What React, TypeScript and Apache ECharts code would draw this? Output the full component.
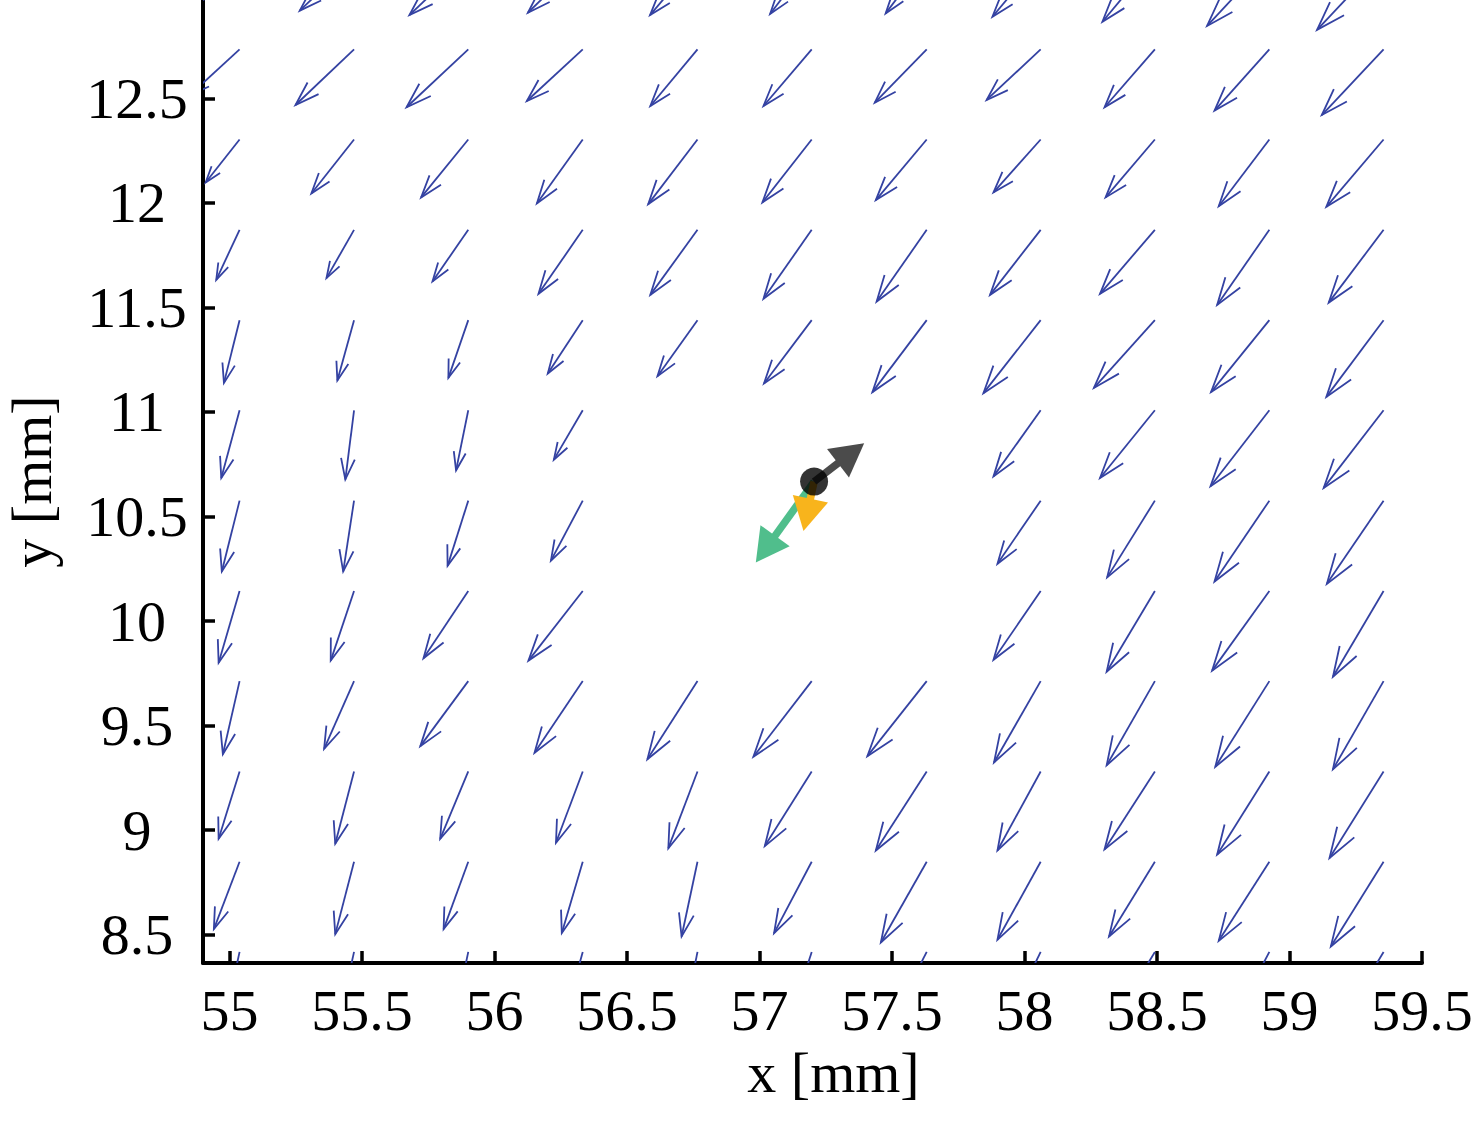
import React, { useEffect, useRef } from "react";
import * as echarts from "echarts";

// grid of the quiver (mm)
const gridX = [55.038, 55.47, 55.901, 56.333, 56.766, 57.197, 57.631, 58.061, 58.492, 58.924, 59.355];
const gridY = [8.418, 8.849, 9.281, 9.713, 10.144, 10.576, 11.008, 11.439, 11.871, 12.303, 12.734, 13.166];

// x-components of the field vectors (mm), one row per gridY (bottom to top); null = no vector
const uRows: (number | null)[][] = [
  [-0.057, -0.060, -0.057, -0.075, -0.057, -0.087, -0.151, -0.143, -0.170, -0.158, -0.189],
  [-0.097, -0.071, -0.093, -0.079, -0.060, -0.142, -0.173, -0.163, -0.173, -0.191, -0.199],
  [-0.079, -0.071, -0.106, -0.101, -0.110, -0.177, -0.192, -0.163, -0.190, -0.197, -0.204],
  [-0.063, -0.113, -0.181, -0.182, -0.189, -0.220, -0.224, -0.176, -0.182, -0.204, -0.191],
  [-0.079, -0.088, -0.169, -0.205, null, null, null, -0.178, -0.182, -0.216, -0.191],
  [-0.067, -0.041, -0.078, -0.120, null, null, null, -0.163, -0.180, -0.207, -0.214],
  [-0.069, -0.033, -0.046, -0.109, null, null, null, -0.178, -0.207, -0.222, -0.226],
  [-0.059, -0.063, -0.075, -0.132, -0.151, -0.180, -0.205, -0.216, -0.230, -0.220, -0.216],
  [-0.088, -0.104, -0.135, -0.167, -0.178, -0.182, -0.189, -0.191, -0.207, -0.197, -0.207],
  [-0.128, -0.161, -0.178, -0.173, -0.186, -0.186, -0.192, -0.178, -0.186, -0.191, -0.216],
  [-0.189, -0.221, -0.233, -0.211, -0.178, -0.182, -0.196, -0.204, -0.190, -0.207, -0.233],
  [-0.196, -0.205, -0.222, -0.207, -0.179, -0.157, -0.155, -0.182, -0.198, -0.235, -0.251],
];

// y-components of the field vectors (mm)
const vRows: (number | null)[][] = [
  [-0.335, -0.344, -0.344, -0.344, -0.359, -0.344, -0.373, -0.373, -0.359, -0.382, -0.402],
  [-0.322, -0.346, -0.322, -0.341, -0.357, -0.341, -0.386, -0.373, -0.357, -0.378, -0.405],
  [-0.322, -0.346, -0.322, -0.341, -0.367, -0.357, -0.378, -0.378, -0.373, -0.398, -0.414],
  [-0.350, -0.324, -0.311, -0.343, -0.374, -0.362, -0.359, -0.389, -0.403, -0.410, -0.422],
  [-0.343, -0.333, -0.322, -0.333, null, null, null, -0.329, -0.386, -0.381, -0.410],
  [-0.339, -0.339, -0.312, -0.287, null, null, null, -0.302, -0.367, -0.387, -0.398],
  [-0.324, -0.331, -0.287, -0.236, null, null, null, -0.316, -0.324, -0.363, -0.371],
  [-0.300, -0.288, -0.276, -0.255, -0.268, -0.303, -0.344, -0.349, -0.324, -0.344, -0.367],
  [-0.239, -0.231, -0.247, -0.306, -0.311, -0.330, -0.343, -0.311, -0.306, -0.359, -0.348],
  [-0.206, -0.258, -0.277, -0.306, -0.309, -0.301, -0.290, -0.253, -0.277, -0.319, -0.322],
  [-0.220, -0.266, -0.277, -0.247, -0.271, -0.271, -0.255, -0.242, -0.277, -0.293, -0.314],
  [-0.229, -0.247, -0.268, -0.257, -0.268, -0.263, -0.260, -0.276, -0.300, -0.320, -0.339],
];

// particle position and force vectors acting on it (mm)
const particle = [57.206, 10.667];
const forceU = [-0.22, -0.04, 0.189];
const forceV = [-0.387, -0.236, 0.184];

const xTicks = [55, 55.5, 56, 56.5, 57, 57.5, 58, 58.5, 59, 59.5];
const yTicks = [8.5, 9, 9.5, 10, 10.5, 11, 11.5, 12, 12.5];

// styles
const FONT = '"Liberation Serif", "Times New Roman", serif';
const BLUE = "#3442A2";
const FORCE_COLORS = ["#50BE8C", "#F8B41C", "#4B4B4B"];

export default function App() {
  const ref = useRef<HTMLDivElement>(null);

  useEffect(() => {
    if (!ref.current) return;
    const chart = echarts.init(ref.current, undefined, { renderer: "svg" });

    const quiverData: number[][] = [];
    for (let j = 0; j < gridY.length; j++) {
      for (let i = 0; i < gridX.length; i++) {
        const u = uRows[j][i];
        const v = vRows[j][i];
        if (u == null || v == null) continue;
        quiverData.push([gridX[i], gridY[j], u, v]);
      }
    }
    const forceData = forceU.map((u, k) => [particle[0], particle[1], u, forceV[k], k]);

    const axisText = { fontFamily: FONT, fontSize: 58, color: "#000" };

    chart.setOption({
      animation: false,
      backgroundColor: "#fff",
      grid: { left: 203, right: 54, top: 0, bottom: 162, containLabel: false, outerBoundsMode: "none" },
      xAxis: {
        type: "value",
        min: 54.9,
        max: 59.5,
        name: "x [mm]",
        nameLocation: "middle",
        nameGap: 67,
        nameTextStyle: { ...axisText, padding: [0, 0, 0, 42] },
        axisLine: { show: true, onZero: false, lineStyle: { color: "#000", width: 4 } },
        axisTick: { show: true, inside: true, length: 12, lineStyle: { color: "#000", width: 3.5 }, customValues: xTicks },
        axisLabel: { ...axisText, margin: 18, customValues: xTicks, formatter: (v: number) => String(v) },
        splitLine: { show: false },
      },
      yAxis: {
        type: "value",
        min: 8.365,
        max: 12.97,
        name: "y [mm]",
        nameLocation: "middle",
        nameGap: 143,
        nameTextStyle: { ...axisText },
        axisLine: { show: true, onZero: false, lineStyle: { color: "#000", width: 4 } },
        axisTick: { show: true, inside: true, length: 12, lineStyle: { color: "#000", width: 3.5 }, customValues: yTicks },
        axisLabel: { ...axisText, margin: 66, align: "center", customValues: yTicks, formatter: (v: number) => String(v) },
        splitLine: { show: false },
      },
      series: [
        {
          type: "custom",
          name: "field",
          clip: true,
          data: quiverData,
          renderItem: (params: any, api: any) => {
            const x = api.value(0), y = api.value(1), u = api.value(2), v = api.value(3);
            const p0 = api.coord([x, y]);
            const p1 = api.coord([x + u, y + v]);
            const dx = p1[0] - p0[0], dy = p1[1] - p0[1];
            const a = 0.3, b = 0.33;
            const h1 = [p1[0] - a * (dx + b * dy), p1[1] - a * (dy - b * dx)];
            const h2 = [p1[0] - a * (dx - b * dy), p1[1] - a * (dy + b * dx)];
            return {
              type: "group",
              children: [
                { type: "line", shape: { x1: p0[0], y1: p0[1], x2: p1[0], y2: p1[1] }, style: { stroke: BLUE, lineWidth: 1.8 } },
                { type: "polyline", shape: { points: [h1, p1, h2] }, style: { stroke: BLUE, lineWidth: 1.8, fill: null } },
              ],
            };
          },
        },
        {
          type: "scatter",
          name: "particle",
          data: [particle],
          symbol: "circle",
          symbolSize: 28,
          itemStyle: { color: "#000" },
          silent: true,
        },
        {
          type: "custom",
          name: "forces",
          clip: true,
          data: forceData,
          renderItem: (params: any, api: any) => {
            const x = api.value(0), y = api.value(1), u = api.value(2), v = api.value(3);
            const color = FORCE_COLORS[api.value(4)];
            const p0 = api.coord([x, y]);
            const p1 = api.coord([x + u, y + v]);
            const dx = p1[0] - p0[0], dy = p1[1] - p0[1];
            const L = Math.hypot(dx, dy) || 1;
            const ux = dx / L, uy = dy / L;
            const headLen = 33, halfW = 18;
            const base = [p1[0] - ux * headLen, p1[1] - uy * headLen];
            const px = -uy, py = ux;
            return {
              type: "group",
              children: [
                { type: "line", shape: { x1: p0[0], y1: p0[1], x2: base[0] + ux * 2, y2: base[1] + uy * 2 }, style: { stroke: color, lineWidth: 7.5 } },
                {
                  type: "polygon",
                  shape: { points: [p1, [base[0] + px * halfW, base[1] + py * halfW], [base[0] - px * halfW, base[1] - py * halfW]] },
                  style: { fill: color },
                },
              ],
            };
          },
        },
      ],
    });

    return () => chart.dispose();
  }, []);

  return <div ref={ref} style={{ position: "fixed", left: 0, top: 0, width: 1476, height: 1125, background: "#fff" }} />;
}
